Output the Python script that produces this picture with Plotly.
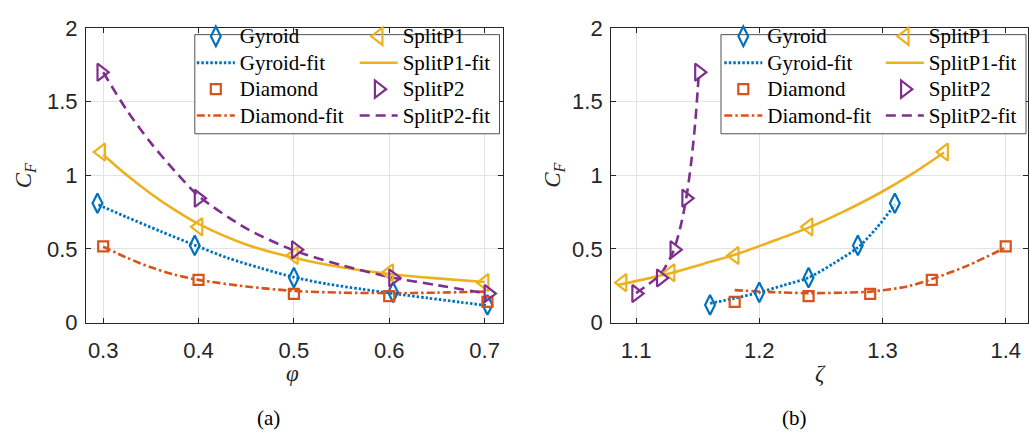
import plotly.graph_objects as go

# ---------------- measured data ----------------
# Panel (a): drag coefficient versus porosity phi
phi_gyroid = [0.294, 0.396, 0.500, 0.604, 0.703]
phi_diamond = [0.300, 0.400, 0.500, 0.600, 0.703]
phi_splitp1 = [0.298, 0.400, 0.500, 0.600, 0.700]
phi_splitp2 = [0.298, 0.400, 0.502, 0.604, 0.704]

cf_gyroid = [0.81, 0.524, 0.305, 0.205, 0.12]
cf_diamond = [0.517, 0.29, 0.195, 0.18, 0.14]
cf_splitp1 = [1.158, 0.65, 0.455, 0.338, 0.271]
cf_splitp2 = [1.70, 0.844, 0.495, 0.303, 0.197]

# Panel (b): same coefficients versus tortuosity zeta
zeta_gyroid = [1.310, 1.280, 1.240, 1.200, 1.160]
zeta_diamond = [1.400, 1.340, 1.290, 1.240, 1.180]
zeta_splitp1 = [1.350, 1.240, 1.180, 1.128, 1.089]
zeta_splitp2 = [1.151, 1.1406, 1.131, 1.120, 1.100]

# ---------------- fitted curves (sampled) ----------------
fit_a_gyroid_x = [0.295, 0.325, 0.36, 0.40, 0.43, 0.465, 0.50, 0.535, 0.57, 0.605, 0.64, 0.675, 0.703]
fit_a_gyroid_y = [0.80, 0.715, 0.62, 0.515, 0.44, 0.37, 0.308, 0.262, 0.228, 0.197, 0.167, 0.138, 0.115]
fit_a_diamond_x = [0.30, 0.325, 0.35, 0.375, 0.40, 0.45, 0.50, 0.55, 0.60, 0.65, 0.70]
fit_a_diamond_y = [0.515, 0.44, 0.375, 0.325, 0.29, 0.245, 0.215, 0.203, 0.200, 0.203, 0.21]
fit_a_splitp1_x = [0.30, 0.325, 0.35, 0.375, 0.40, 0.45, 0.50, 0.55, 0.60, 0.65, 0.70]
fit_a_splitp1_y = [1.14, 1.00, 0.875, 0.765, 0.67, 0.53, 0.44, 0.375, 0.33, 0.30, 0.275]
fit_a_splitp2_x = [0.30, 0.325, 0.35, 0.375, 0.40, 0.45, 0.50, 0.55, 0.60, 0.65, 0.70]
fit_a_splitp2_y = [1.70, 1.44, 1.22, 1.03, 0.86, 0.64, 0.49, 0.39, 0.31, 0.254, 0.20]

fit_b_gyroid_x = [1.16, 1.18, 1.20, 1.22, 1.24, 1.26, 1.28, 1.295, 1.31]
fit_b_gyroid_y = [0.13, 0.165, 0.205, 0.254, 0.305, 0.40, 0.51, 0.64, 0.80]
fit_b_diamond_x = [1.18, 1.21, 1.24, 1.27, 1.29, 1.32, 1.34, 1.37, 1.40]
fit_b_diamond_y = [0.22, 0.207, 0.20, 0.203, 0.21, 0.245, 0.295, 0.39, 0.51]
fit_b_splitp1_x = [1.085, 1.11, 1.13, 1.155, 1.18, 1.21, 1.24, 1.27, 1.30, 1.325, 1.35]
fit_b_splitp1_y = [0.255, 0.30, 0.34, 0.40, 0.46, 0.55, 0.645, 0.76, 0.89, 1.015, 1.155]
fit_b_splitp2_x = [1.100, 1.110, 1.120, 1.130, 1.136, 1.1406, 1.1446, 1.148, 1.150, 1.151]
fit_b_splitp2_y = [0.20, 0.26, 0.33, 0.48, 0.65, 0.84, 1.08, 1.36, 1.58, 1.70]

# ---------------- styling ----------------
BLUE = "#0072BD"
ORANGE = "#D95319"
YELLOW = "#EDB120"
PURPLE = "#7E2F8E"
AXIS = "#262626"
GRID = "#e3e3e3"
SANS = "Liberation Sans, Arial, sans-serif"
SERIF = "Liberation Serif, Times New Roman, serif"

W, H = 1029, 446


def px_x(p):
    return p / W


def px_y(p):
    return 1 - p / H


def label(name):
    return '<span style="font-size:21px">' + name + "</span>"


def markers(x, y, name, color, symbol, size, xa, ya, legend):
    return go.Scatter(
        x=x, y=y, name=label(name), mode="markers",
        marker=dict(symbol=symbol, size=size, color=color, line=dict(width=2.2, color=color)),
        xaxis=xa, yaxis=ya, legend=legend,
    )


def fit(x, y, name, color, dash, width, xa, ya, legend):
    return go.Scatter(
        x=x, y=y, name=label(name), mode="lines",
        line=dict(color=color, dash=dash, width=width, shape="spline", smoothing=0.8),
        xaxis=xa, yaxis=ya, legend=legend,
    )


DOT = "2.5px,2px"
DASHDOT = "8px,3px,2.5px,3px"
DASH = "10px,6px"

fig = go.Figure()

panels = [
    ("x", "y", "legend", "legend2",
     (phi_gyroid, phi_diamond, phi_splitp1, phi_splitp2),
     (fit_a_gyroid_x, fit_a_gyroid_y, fit_a_diamond_x, fit_a_diamond_y,
      fit_a_splitp1_x, fit_a_splitp1_y, fit_a_splitp2_x, fit_a_splitp2_y)),
    ("x2", "y2", "legend3", "legend4",
     (zeta_gyroid, zeta_diamond, zeta_splitp1, zeta_splitp2),
     (fit_b_gyroid_x, fit_b_gyroid_y, fit_b_diamond_x, fit_b_diamond_y,
      fit_b_splitp1_x, fit_b_splitp1_y, fit_b_splitp2_x, fit_b_splitp2_y)),
]

for xa, ya, lg1, lg2, xs, fits in panels:
    xg, xd, x1, x2 = xs
    gx, gy, dx, dy, s1x, s1y, s2x, s2y = fits
    fig.add_trace(fit(gx, gy, "Gyroid-fit", BLUE, DOT, 2.8, xa, ya, lg1))
    fig.add_trace(fit(dx, dy, "Diamond-fit", ORANGE, DASHDOT, 2.6, xa, ya, lg1))
    fig.add_trace(fit(s1x, s1y, "SplitP1-fit", YELLOW, "solid", 2.6, xa, ya, lg2))
    fig.add_trace(fit(s2x, s2y, "SplitP2-fit", PURPLE, DASH, 2.6, xa, ya, lg2))
    fig.add_trace(markers(xg, cf_gyroid, "Gyroid", BLUE, "diamond-tall-open", 14, xa, ya, lg1))
    fig.add_trace(markers(xd, cf_diamond, "Diamond", ORANGE, "square-open", 10, xa, ya, lg1))
    fig.add_trace(markers(x1, cf_splitp1, "SplitP1", YELLOW, "triangle-left-open", 15, xa, ya, lg2))
    fig.add_trace(markers(x2, cf_splitp2, "SplitP2", PURPLE, "triangle-right-open", 15, xa, ya, lg2))

axis_common = dict(
    showline=True, linecolor=AXIS, linewidth=1, mirror="ticks",
    ticks="inside", ticklen=5, tickcolor=AXIS, tickwidth=1,
    showgrid=True, gridcolor=GRID, gridwidth=1, zeroline=False,
    tickfont=dict(family=SANS, size=22, color=AXIS),
)

y_dom = [px_y(329), px_y(17)]

fig.update_layout(
    width=W, height=H, autosize=False,
    margin=dict(l=0, r=0, t=0, b=0),
    paper_bgcolor="white", plot_bgcolor="white",
    showlegend=True,
    xaxis=dict(domain=[px_x(86), px_x(503)], range=[0.2819, 0.7188],
               tickvals=[0.3, 0.4, 0.5, 0.6, 0.7], ticktext=["0.3", "0.4", "0.5", "0.6", "0.7"],
               anchor="y", ticklabelstandoff=8, **axis_common),
    yaxis=dict(domain=y_dom, range=[0, 2], tickvals=[0, 0.5, 1, 1.5, 2],
               ticktext=["0", "0.5", "1", "1.5", "2"], anchor="x", ticklabelstandoff=3,
               **axis_common),
    xaxis2=dict(domain=[px_x(611.7), 1.0], range=[1.0797, 1.4181],
                tickvals=[1.1, 1.2, 1.3, 1.4], ticktext=["1.1", "1.2", "1.3", "1.4"],
                anchor="y2", ticklabelstandoff=8, **axis_common),
    yaxis2=dict(domain=y_dom, range=[0, 2], tickvals=[0, 0.5, 1, 1.5, 2],
                ticktext=["0", "0.5", "1", "1.5", "2"], anchor="x2", ticklabelstandoff=3,
                **axis_common),
)

legend_common = dict(
    orientation="v", xanchor="left", yanchor="top",
    bgcolor="rgba(0,0,0,0)", borderwidth=0, itemwidth=38,
    font=dict(family=SERIF, size=18, color="black"),
    tracegroupgap=0, traceorder="normal",
)
LEG_TOP = 6.5
fig.update_layout(
    legend=dict(x=px_x(192), y=px_y(LEG_TOP), **legend_common),
    legend2=dict(x=px_x(355), y=px_y(LEG_TOP), **legend_common),
    legend3=dict(x=px_x(720), y=px_y(LEG_TOP), **legend_common),
    legend4=dict(x=px_x(881.7), y=px_y(LEG_TOP), **legend_common),
)

# legend frames (white boxes drawn over the curves)
for x0, x1 in [(195, 500), (721.7, 1027)]:
    fig.add_shape(type="rect", xref="paper", yref="paper",
                  x0=px_x(x0), x1=px_x(x1), y0=px_y(129), y1=px_y(24),
                  fillcolor="white", line=dict(color=AXIS, width=0.8), layer="above")

annotations = [
    dict(text="<i>C</i><sub><i>F</i></sub>", x=px_x(25), y=px_y(173), textangle=-90,
         font=dict(family=SERIF, size=23, color=AXIS)),
    dict(text="<i>C</i><sub><i>F</i></sub>", x=px_x(555), y=px_y(173), textangle=-90,
         font=dict(family=SERIF, size=23, color=AXIS)),
    dict(text="<i>\u03c6</i>", x=px_x(293), y=px_y(383),
         font=dict(family=SERIF, size=23, color=AXIS)),
    dict(text="<i>\u03b6</i>", x=px_x(821.7), y=px_y(383),
         font=dict(family=SERIF, size=23, color=AXIS)),
    dict(text="(a)", x=px_x(268.7), y=px_y(430),
         font=dict(family=SERIF, size=21, color="black")),
    dict(text="(b)", x=px_x(795), y=px_y(430),
         font=dict(family=SERIF, size=21, color="black")),
]
for a in annotations:
    fig.add_annotation(xref="paper", yref="paper", showarrow=False,
                       xanchor="center", yanchor="middle", **a)

# legend order: data markers first, fit curves below them
order = {"Gyroid": 1, "Gyroid-fit": 2, "Diamond": 3, "Diamond-fit": 4,
         "SplitP1": 1, "SplitP1-fit": 2, "SplitP2": 3, "SplitP2-fit": 4}
for tr in fig.data:
    plain = tr.name.split(">")[1].split("<")[0]
    tr.legendrank = order[plain]

fig.write_html("out.html")
